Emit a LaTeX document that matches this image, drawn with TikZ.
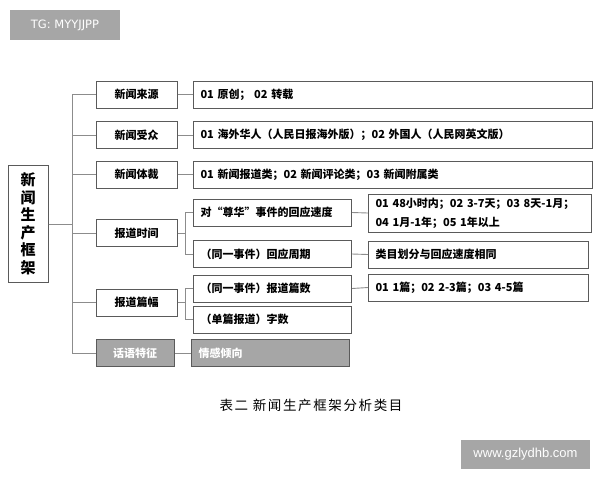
\documentclass[tikz,border=0pt]{standalone}
\usepackage{fontspec}
\setmainfont{Liberation Sans}
\newfontfamily\cjk{Noto Sans CJK SC}
\newfontfamily\tagfont{DejaVu Sans}
\definecolor{boxline}{HTML}{5A5A5A}
\definecolor{linkgray}{HTML}{8C8C8C}
\definecolor{tagfill}{HTML}{A6A6A6}
\tikzstyle{cat}=[draw=boxline,line width=1pt,minimum width=81pt,minimum height=27pt,inner sep=0pt,font=\cjk\bfseries\fontsize{11}{13}\selectfont]
\tikzstyle{item}=[cat,anchor=west,inner xsep=7pt,align=left]
\tikzstyle{muted}=[fill=tagfill,text=white]
\tikzstyle{link}=[draw=linkgray,line width=0.9pt]
\tikzstyle{stamp}=[fill=tagfill,text=white,inner sep=0pt]

\begin{document}
\begin{tikzpicture}[x=1pt,y=-1pt]
				\useasboundingbox (0,0) rectangle (600,480);
				% root and first level
				\node[cat,minimum width=40pt,minimum height=117pt,align=center,font=\cjk\bfseries\fontsize{15}{17.5}\selectfont] (root) at (28,224) {新\\闻\\生\\产\\框\\架};
				\foreach \pos/\name/\txt in {{(136.5,94.5)/src/新闻来源}, {(136.5,135)/aud/新闻受众}, {(136.5,174.5)/genre/新闻体裁}, {(136.5,233)/time/报道时间}, {(136.5,302.5)/len/报道篇幅}}
				\node[cat] (\name) at \pos {\txt};
				\node[cat,muted,minimum width=78pt] (disc) at (135,353) {话语特征};

				% second level
				\foreach \pos/\name/\txt in {{(193,94.5)/srcv/01\ 原创；\ 02\ 转载}, {(193,135)/audv/01\ 海外华人（人民日报海外版）；02\ 外国人（人民网英文版）}, {(193,174.5)/genrev/01\ 新闻报道类；02\ 新闻评论类；03\ 新闻附属类}}
				\node[item,text width=385pt] (\name) at \pos {\txt};
				\foreach \pos/\name/\txt in {{(193,212.5)/speed/对“尊华”事件的回应速度}, {(193,254)/cycle/（同一事件）回应周期}, {(193,288.5)/count/（同一事件）报道篇数}, {(193,319.5)/words/（单篇报道）字数}}
				\node[item,text width=144pt] (\name) at \pos {\txt};
				\node[item,muted,text width=144pt] (mood) at (191,353) {情感倾向};

				% third level
				\node[item,text width=209pt,minimum height=38pt,font=\cjk\bfseries\fontsize{11}{19}\selectfont] (speedv) at (368,213) {01\ 48小时内；02\ 3-7天；03\ 8天-1月；\\04\ 1月-1年；05\ 1年以上};
				\node[item,text width=206pt] (cyclev) at (368,254.5) {类目划分与回应速度相同};
				\node[item,text width=206pt] (countv) at (368,287.5) {01\ 1篇；02\ 2-3篇；03\ 4-5篇};

				% connectors
				\foreach \dest in {src,aud,genre,time,len,disc}
				\path[link] (root.east) -- ++(24,0) |- (\dest.west);
				\foreach \dest in {speed,cycle}
				\path[link] (time.east) -- ++(8,0) |- (\dest.west);
				\foreach \dest in {count,words}
				\path[link] (len.east) -- ++(8,0) |- (\dest.west);
				\foreach \source/ \dest in {src/srcv, aud/audv, genre/genrev, speed/speedv, cycle/cyclev, count/countv, disc/mood}
				\path[link] (\source.east) -- (\dest.west);

				% caption and stamps
				\node[font=\cjk\fontsize{13.5}{15}\selectfont\addfontfeature{LetterSpace=12}] (cap) at (311,405) {表二\ 新闻生产框架分析类目};
				\node[stamp,minimum width=110pt,minimum height=30pt,font=\tagfont\fontsize{11.5}{13}\selectfont] (tg) at (65,25) {TG: MYYJJPP};
				\node[stamp,minimum width=129pt,minimum height=29pt,font=\fontsize{13}{15}\selectfont] (web) at (525.5,454.5) {www.gzlydhb.com};
			\end{tikzpicture}
\end{document}
